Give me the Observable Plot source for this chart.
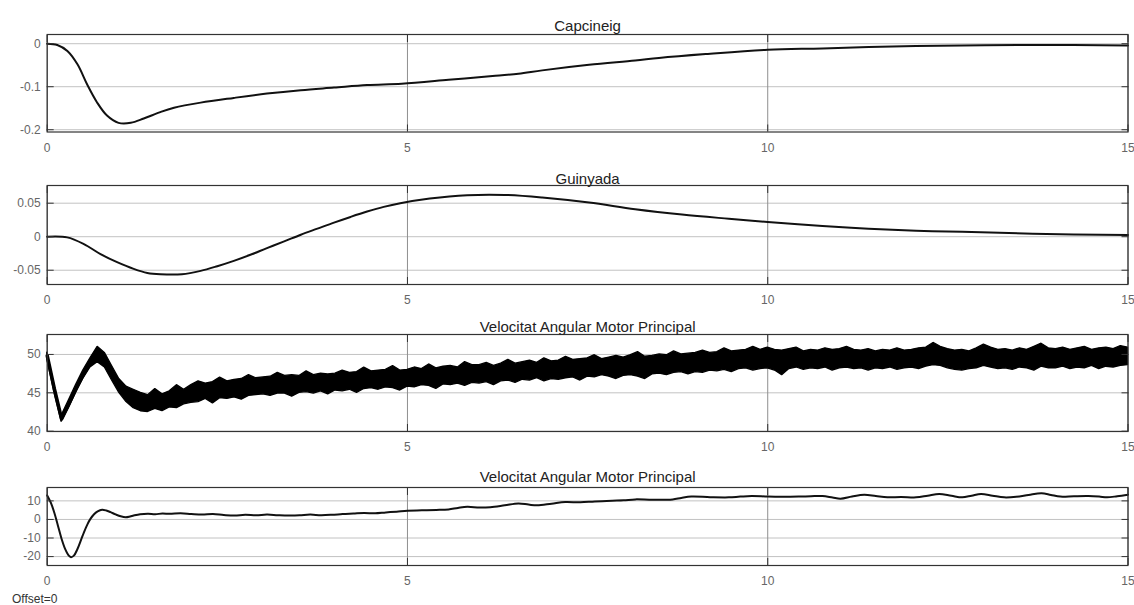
<!DOCTYPE html>
<html>
<head>
<meta charset="utf-8">
<script src="https://cdn.jsdelivr.net/npm/d3@7"></script>
<script src="https://cdn.jsdelivr.net/npm/@observablehq/plot@0.6"></script>
<style>
  html, body { margin: 0; padding: 0; background: #fff; }
  #chart { position: relative; width: 1134px; height: 605px; overflow: hidden;
           font-family: "Liberation Sans", Arial, Helvetica, sans-serif; }
  .panel { position: absolute; left: 0; }
  .panel svg { overflow: visible; }
  #offset { position: absolute; left: 12px; top: 592px; font-size: 12px; color: #333; line-height: 14px; }
</style>
</head>
<body>
<div id="chart"></div>
<script>
// ---- Shared time axis ----
const xTicks = [0, 5, 10, 15];

// ---- Capcineig (pitch) ----
const pitchT = [0, 0.14, 0.28, 0.42, 0.555, 0.69, 0.83, 0.99, 1.16, 1.34, 1.57, 1.76, 2.13, 2.59, 3.05, 3.52, 3.98, 4.44, 4.92, 5.57, 6.22, 6.54, 6.87, 7.52, 8.16, 8.49, 9.14, 10.0, 10.76, 11.73, 12.7, 13.68, 15];
const pitchV = [0, -0.003, -0.017, -0.048, -0.095, -0.136, -0.167, -0.184, -0.184, -0.174, -0.159, -0.149, -0.137, -0.126, -0.116, -0.108, -0.102, -0.096, -0.093, -0.084, -0.0745, -0.070, -0.062, -0.049, -0.039, -0.033, -0.024, -0.014, -0.011, -0.0063, -0.0039, -0.003, -0.004];
const pitchTicks = [-0.2, -0.1, 0];

// ---- Guinyada (yaw) ----
const yawT = [0, 0.277, 0.51, 0.74, 0.97, 1.2, 1.39, 1.57, 1.87, 2.13, 2.36, 2.59, 2.82, 3.05, 3.28, 3.52, 3.75, 3.98, 4.21, 4.44, 4.67, 4.9, 5.31, 5.83, 6.35, 6.87, 7.52, 8.16, 8.81, 9.46, 10, 10.76, 11.4, 12.06, 12.7, 13.68, 15];
const yawV = [0, -0.001, -0.011, -0.026, -0.038, -0.048, -0.054, -0.056, -0.056, -0.051, -0.044, -0.036, -0.027, -0.017, -0.0074, 0.003, 0.012, 0.021, 0.0295, 0.0375, 0.0445, 0.050, 0.057, 0.062, 0.0624, 0.0585, 0.051, 0.041, 0.033, 0.0268, 0.022, 0.016, 0.012, 0.009, 0.0073, 0.0044, 0.0024];
const yawTicks = [-0.05, 0, 0.05];

// ---- Velocitat angular motor principal: noisy band (upper / lower edge), sampled every 0.1 s ----
const velStep = 0.1;
const velHi = [50.3, 46.0, 42.0, 44.0, 46.0, 47.9, 49.5, 51.0, 50.2, 48.5,
  46.8, 45.8, 45.4, 45.0, 44.7, 45.5, 44.8, 45.2, 46.0, 45.4,
  46.0, 46.5, 46.2, 46.4, 47.0, 46.5, 46.7, 46.8, 47.3, 46.9,
  47.0, 47.1, 47.6, 47.2, 47.3, 47.2, 47.8, 47.3, 47.5, 47.4,
  47.5, 47.9, 47.6, 47.7, 48.3, 47.8, 47.9, 48.0, 48.5, 47.9,
  48.0, 48.3, 48.1, 48.7, 48.2, 48.4, 48.5, 48.3, 49.0, 48.6,
  48.6, 48.9, 48.5, 48.8, 49.3, 48.8, 49.0, 49.2, 48.9, 49.5,
  49.1, 49.2, 49.7, 49.3, 49.4, 49.5, 49.9, 49.4, 49.6, 49.8,
  49.6, 49.9, 50.3, 49.7, 49.8, 50.0, 49.9, 50.4, 50.0, 50.1,
  50.2, 50.5, 50.2, 50.3, 50.8, 50.4, 50.5, 50.6, 51.0, 50.6,
  50.9, 50.6, 50.5, 50.7, 50.9, 50.4, 50.6, 50.5, 50.8, 50.6,
  50.7, 51.0, 50.6, 50.5, 50.7, 50.4, 50.6, 50.5, 50.8, 50.5,
  50.6, 50.8, 50.9, 51.5, 51.0, 50.7, 50.5, 50.6, 50.4, 50.8,
  51.3, 50.9, 50.6, 50.7, 50.5, 50.8, 50.6, 51.0, 51.4, 50.8,
  50.7, 50.9, 50.6, 50.8, 51.0, 50.6, 50.8, 50.9, 50.7, 51.1,
  50.9];
const velLo = [49.4, 45.0, 41.2, 43.0, 45.0, 46.8, 48.3, 49.0, 48.3, 46.6,
  45.0, 43.8, 43.0, 42.6, 42.5, 42.9, 42.6, 43.1, 43.0, 43.5,
  43.7, 43.8, 44.2, 43.6, 44.3, 44.2, 44.4, 44.1, 44.6, 44.7,
  44.8, 44.6, 44.9, 44.9, 44.5, 45.0, 45.1, 44.9, 45.2, 44.8,
  45.3, 45.2, 45.4, 45.0, 45.5, 45.6, 45.4, 45.7, 45.6, 45.3,
  45.8, 45.7, 46.0, 45.9, 45.5, 46.1, 46.0, 46.2, 45.9, 46.3,
  46.2, 46.4, 46.0, 46.5, 46.6, 46.3, 46.7, 46.6, 46.9, 46.5,
  46.8, 46.7, 46.9, 47.0, 46.6, 47.1, 47.0, 47.3, 47.1, 46.8,
  47.2, 47.3, 47.1, 46.8, 47.4, 47.5, 47.3, 47.6, 47.7, 47.4,
  47.7, 47.6, 47.9, 47.8, 48.0, 47.7, 48.1, 48.2, 47.9, 48.1,
  48.2, 47.9, 47.3, 48.1, 48.3, 48.0, 48.2, 48.1, 48.3, 47.9,
  48.2, 48.3, 48.1, 48.2, 47.9, 48.2, 48.1, 48.3, 48.0, 48.2,
  48.3, 48.1, 48.4, 48.6, 48.5, 48.2, 48.0, 47.9, 48.1, 48.2,
  48.5, 48.3, 48.1, 48.2, 48.0, 48.3, 48.2, 47.9, 48.4, 48.2,
  48.2, 48.4, 48.1, 48.3, 48.2, 48.5, 48.1, 48.4, 48.3, 48.5,
  48.6];
const velTicks = [40, 45, 50];

// ---- Velocitat angular motor principal (filtered) ----
const motorT = [0, 0.05, 0.1, 0.15, 0.2, 0.25, 0.3, 0.33, 0.37, 0.42, 0.47, 0.51, 0.56, 0.6, 0.65, 0.7, 0.76, 0.82, 0.88, 0.95, 1.02, 1.09, 1.15, 1.2, 1.29, 1.4, 1.5, 1.6, 1.7, 1.85, 2.0, 2.15, 2.3, 2.45, 2.6, 2.75, 2.9, 3.05, 3.2, 3.35, 3.5, 3.65, 3.8, 3.95, 4.1, 4.25, 4.4, 4.55, 4.7, 4.85, 5.0, 5.2, 5.4, 5.57, 5.7, 5.83, 6.0, 6.15, 6.35, 6.54, 6.68, 6.8, 7.0, 7.19, 7.4, 7.6, 7.84, 8.0, 8.16, 8.4, 8.68, 8.8, 8.94, 9.2, 9.46, 9.62, 9.78, 10.0, 10.2, 10.43, 10.6, 10.76, 10.9, 11.01, 11.17, 11.34, 11.5, 11.66, 11.85, 12.06, 12.22, 12.38, 12.55, 12.7, 12.83, 12.96, 13.12, 13.28, 13.45, 13.62, 13.8, 13.93, 14.06, 14.25, 14.45, 14.6, 14.71, 14.85, 15.0];
const motorV = [12.9, 9.0, 3.5, -3.5, -10.5, -16.0, -19.5, -20.3, -19.5, -15.9, -11.0, -6.9, -2.5, 0.3, 2.8, 4.3, 5.2, 4.8, 3.9, 2.7, 1.7, 1.2, 1.6, 2.1, 2.8, 3.0, 2.8, 3.2, 3.0, 3.3, 2.9, 2.6, 2.9, 2.4, 2.1, 2.5, 2.2, 2.6, 2.3, 2.1, 2.2, 2.6, 2.3, 2.5, 2.9, 3.2, 3.5, 3.3, 3.8, 4.2, 4.7, 4.9, 5.1, 5.4, 6.2, 6.8, 6.4, 6.6, 7.6, 8.6, 8.0, 7.6, 8.5, 9.4, 9.2, 9.7, 10.1, 10.3, 10.8, 10.6, 10.8, 11.6, 12.3, 12.0, 11.9, 12.3, 12.6, 12.3, 12.2, 12.3, 12.5, 12.6, 11.8, 11.2, 12.4, 13.3, 12.6, 11.9, 12.1, 11.9, 12.8, 13.7, 12.7, 11.9, 12.8, 13.7, 12.8, 11.9, 12.2, 13.2, 14.1, 13.2, 12.3, 12.5, 12.6, 12.3, 11.9, 12.5, 13.3];
const motorTicks = [-20, -10, 0, 10];

const titles = ["Capcineig", "Guinyada", "Velocitat Angular Motor Principal", "Velocitat Angular Motor Principal"];

// ---- Rendering ----
const FONT = '"Liberation Sans", Arial, Helvetica, sans-serif';
const PAD = 30;
const chart = document.getElementById("chart");
const blank = () => "";
const num = d => String(d);

// One boxed subplot: frame, grid, inward ticks on all four sides, labels left/bottom, title above.
function panel({title, frameTop, frameBottom, yDomain, yTicks, marks, titleGap = 13}) {
  const height = frameBottom - frameTop + 2 * PAD;
  const svg = Plot.plot({
    width: 1134,
    height,
    marginTop: PAD,
    marginBottom: PAD,
    marginLeft: 46.7,
    marginRight: 6.5,
    style: {background: "transparent", fontFamily: FONT, fontSize: "12px", overflow: "visible"},
    x: {domain: [0, 15]},
    y: {domain: yDomain},
    marks: [
      Plot.gridY(yTicks, {stroke: "#c2c2c2", strokeOpacity: 1}),
      Plot.gridX(xTicks, {stroke: "#8f8f8f", strokeOpacity: 1}),
      ...marks,
      Plot.axisY(yTicks, {anchor: "left", label: null, tickSize: -7, tickFormat: blank, stroke: "#333"}),
      Plot.axisY(yTicks, {anchor: "right", label: null, tickSize: -7, tickFormat: blank, stroke: "#333"}),
      Plot.axisY(yTicks, {anchor: "left", label: null, tickSize: 0, tickPadding: 6.5, tickFormat: num, fill: "#666", fontSize: 12}),
      Plot.axisX(xTicks, {anchor: "bottom", label: null, tickSize: -7, tickFormat: blank, stroke: "#333"}),
      Plot.axisX(xTicks, {anchor: "top", label: null, tickSize: -7, tickFormat: blank, stroke: "#333"}),
      Plot.axisX(xTicks, {anchor: "bottom", label: null, tickSize: 0, tickPadding: 11, tickFormat: num, fill: "#666", fontSize: 12}),
      Plot.frame({stroke: "#333", strokeWidth: 1.2}),
      Plot.text([title], {frameAnchor: "top", dy: -titleGap, fontSize: 15, fill: "#222", text: d => d})
    ]
  });
  const div = document.createElement("div");
  div.className = "panel";
  div.style.top = (frameTop - PAD) + "px";
  div.appendChild(svg);
  chart.appendChild(div);
}

const pitchRows = pitchT.map((t, i) => ({t, v: pitchV[i]}));
const yawRows = yawT.map((t, i) => ({t, v: yawV[i]}));
const velRows = velHi.map((hi, i) => ({t: i * velStep, hi, lo: velLo[i], mid: (hi + velLo[i]) / 2}));
const velTransient = velRows.filter(d => d.t <= 1.25);   // fast transient: drawn as a thick trace
const motorRows = motorT.map((t, i) => ({t, v: motorV[i]}));

panel({
  title: titles[0], frameTop: 33.5, frameBottom: 131,
  yDomain: [-0.2053, 0.0214], yTicks: pitchTicks, titleGap: 14,
  marks: [Plot.line(pitchRows, {x: "t", y: "v", stroke: "#111", strokeWidth: 2, curve: "catmull-rom"})]
});
panel({
  title: titles[1], frameTop: 185, frameBottom: 284,
  yDomain: [-0.0713, 0.0764], yTicks: yawTicks, titleGap: 12,
  marks: [Plot.line(yawRows, {x: "t", y: "v", stroke: "#111", strokeWidth: 2, curve: "catmull-rom"})]
});
panel({
  title: titles[2], frameTop: 334, frameBottom: 431,
  yDomain: [39.96, 52.6], yTicks: velTicks, titleGap: 13,
  marks: [
    Plot.areaY(velRows, {x: "t", y1: "lo", y2: "hi", fill: "#000", stroke: "#000", strokeWidth: 1.3, strokeLinejoin: "miter"}),
    Plot.line(velTransient, {x: "t", y: "mid", stroke: "#000", strokeWidth: 3.5})
  ]
});
panel({
  title: titles[3], frameTop: 487, frameBottom: 565,
  yDomain: [-24.8, 17.2], yTicks: motorTicks, titleGap: 16,
  marks: [Plot.line(motorRows, {x: "t", y: "v", stroke: "#111", strokeWidth: 2, curve: "catmull-rom"})]
});

const off = document.createElement("div");
off.id = "offset";
off.textContent = "Offset=0";
chart.appendChild(off);
</script>
</body>
</html>
